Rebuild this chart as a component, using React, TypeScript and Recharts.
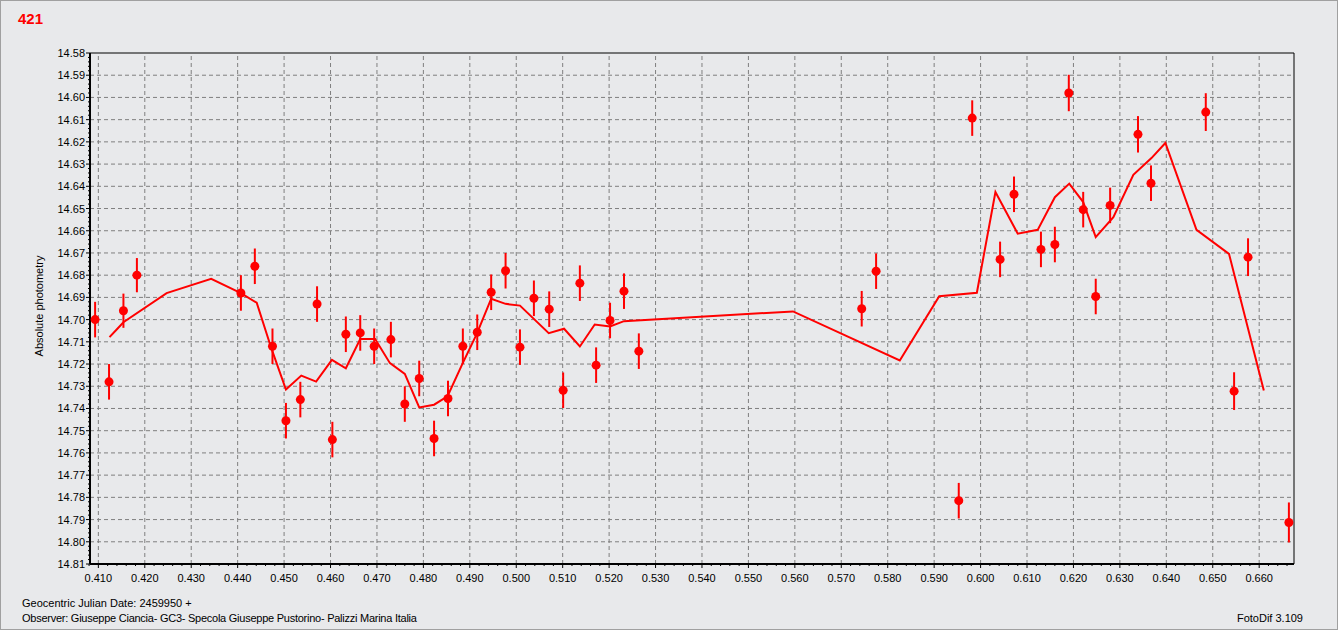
import React from "react";
import {
  ScatterChart,
  Scatter,
  XAxis,
  YAxis,
  ErrorBar,
  ReferenceLine,
} from "recharts";

// measured points: julian date fraction, magnitude, error
const obsX = [
  0.4093, 0.4123, 0.4154, 0.4183, 0.4407, 0.4437, 0.4475, 0.4504, 0.4535, 0.4571,
  0.4604, 0.4633, 0.4664, 0.4694, 0.473, 0.476, 0.4791, 0.4823, 0.4853, 0.4885,
  0.4916, 0.4946, 0.4977, 0.5008, 0.5038, 0.5071, 0.5101, 0.5137, 0.5172, 0.5202,
  0.5232, 0.5264, 0.5744, 0.5775, 0.5953, 0.5982, 0.6042, 0.6072, 0.613, 0.616,
  0.619, 0.6221, 0.6248, 0.6279, 0.6339, 0.6367, 0.6485, 0.6546, 0.6576, 0.6664,
];
const obsMag = [
  14.7, 14.728, 14.696, 14.68, 14.688, 14.676, 14.712, 14.7455, 14.736, 14.693,
  14.754, 14.7066, 14.706, 14.712, 14.709, 14.738, 14.7265, 14.7535, 14.7355, 14.712,
  14.7057, 14.6877, 14.678, 14.7124, 14.6904, 14.6953, 14.7318, 14.6836, 14.7205, 14.7004,
  14.6872, 14.7142, 14.6951, 14.6782, 14.7815, 14.6093, 14.6729, 14.6436, 14.6684, 14.6662,
  14.598, 14.6505, 14.6896, 14.6486, 14.6166, 14.6386, 14.6066, 14.7322, 14.6719, 14.7913,
];
const obsErr = [
  0.008, 0.008, 0.0077, 0.0077, 0.008, 0.008, 0.008, 0.008, 0.008, 0.008,
  0.008, 0.008, 0.008, 0.008, 0.008, 0.008, 0.008, 0.008, 0.008, 0.008,
  0.008, 0.008, 0.008, 0.008, 0.008, 0.008, 0.008, 0.008, 0.008, 0.008,
  0.008, 0.008, 0.008, 0.008, 0.008, 0.008, 0.008, 0.008, 0.008, 0.008,
  0.0082, 0.008, 0.008, 0.008, 0.0082, 0.008, 0.0085, 0.0085, 0.0085, 0.009,
];

// running mean curve
const meanX = [
  0.4124, 0.4141, 0.4154, 0.4247, 0.4343, 0.4407, 0.4441, 0.4473, 0.4504, 0.4537,
  0.4569, 0.4603, 0.4633, 0.4664, 0.4696, 0.4728, 0.476, 0.4791, 0.4823, 0.4852,
  0.4885, 0.4915, 0.4946, 0.4977, 0.5008, 0.507, 0.5103, 0.5137, 0.5169, 0.5202,
  0.5232, 0.5596, 0.5826, 0.5911, 0.5992, 0.6032, 0.608, 0.6123, 0.616, 0.6191,
  0.6221, 0.6248, 0.6286, 0.6329, 0.6368, 0.6398, 0.6465, 0.6535, 0.661,
];
const meanMag = [
  14.7079, 14.7041, 14.7012, 14.6881, 14.6816, 14.6881, 14.6924, 14.7132, 14.7315, 14.7252,
  14.7279, 14.7181, 14.7219, 14.7087, 14.7087, 14.7196, 14.7244, 14.7395, 14.7383, 14.7345,
  14.7195, 14.7064, 14.6906, 14.6929, 14.6937, 14.7061, 14.7041, 14.7121, 14.7022, 14.7031,
  14.7007, 14.6963, 14.7184, 14.6895, 14.6879, 14.6426, 14.6613, 14.6596, 14.6449, 14.6388,
  14.6471, 14.6629, 14.6539, 14.6348, 14.6273, 14.6205, 14.6596, 14.6704, 14.7319,
];

const xMajorTicks = [
  0.41, 0.42, 0.43, 0.44, 0.45, 0.46, 0.47, 0.48, 0.49, 0.5, 0.51, 0.52, 0.53,
  0.54, 0.55, 0.56, 0.57, 0.58, 0.59, 0.6, 0.61, 0.62, 0.63, 0.64, 0.65, 0.66,
];
const yMajorTicks = [
  14.58, 14.59, 14.6, 14.61, 14.62, 14.63, 14.64, 14.65, 14.66, 14.67, 14.68, 14.69,
  14.7, 14.71, 14.72, 14.73, 14.74, 14.75, 14.76, 14.77, 14.78, 14.79, 14.8, 14.81,
];

const X_MIN = 0.4082;
const X_MAX = 0.6675;
const FONT = "'Liberation Sans', Arial, sans-serif";
const RED = "#ff0000";

const obsData = obsX.map((x, i) => ({ x, y: obsMag[i], err: obsErr[i] }));
const meanData = meanX.map((x, i) => ({ x, y: meanMag[i] }));

// minor ticks every 0.002 between the labelled ones
const xAllTicks: number[] = [];
for (let k = 204; k <= 333; k++) xAllTicks.push(+(k * 0.002).toFixed(3));
const yAllTicks: number[] = [];
for (let k = 7290; k <= 7405; k++) yAllTicks.push(+(k * 0.002).toFixed(3));

const isMajor = (v: number) => Math.abs(v * 100 - Math.round(v * 100)) < 1e-6;

const XTick = (props: any) => {
  const { x, y, payload } = props;
  const major = isMajor(payload.value);
  return (
    <g>
      <line x1={x} x2={x} y1={y} y2={y + (major ? 4 : 2)} stroke="#000" />
      {major && (
        <text x={x} y={y + 18} textAnchor="middle" fontSize={11} fontFamily={FONT} fill="#000">
          {payload.value.toFixed(3)}
        </text>
      )}
    </g>
  );
};

const YTick = (props: any) => {
  const { x, y, payload } = props;
  const major = isMajor(payload.value);
  return (
    <g>
      <line x1={x - (major ? 4 : 2)} x2={x} y1={y} y2={y} stroke="#000" />
      {major && (
        <text x={x - 5} y={y + 4} textAnchor="end" fontSize={11} fontFamily={FONT} fill="#000">
          {payload.value.toFixed(2)}
        </text>
      )}
    </g>
  );
};

const Dot = (props: any) => <circle cx={props.cx} cy={props.cy} r={4.5} fill={RED} />;
const NoDot = () => <g />;

export default function App() {
  return (
    <div
      style={{
        position: "absolute",
        left: 0,
        top: 0,
        width: 1336,
        height: 628,
        background: "#e8e9eb",
        border: "1px solid #a0a0a0",
        fontFamily: FONT,
        overflow: "hidden",
      }}
    >
      <div
        style={{
          position: "absolute",
          left: 17,
          top: 9,
          color: RED,
          fontWeight: "bold",
          fontSize: 15,
        }}
      >
        421
      </div>
      <div
        style={{
          position: "absolute",
          left: 38,
          top: 305,
          transform: "translate(-50%, -50%) rotate(-90deg)",
          fontSize: 11,
          whiteSpace: "nowrap",
          color: "#000",
        }}
      >
        Absolute photometry
      </div>
      <div style={{ position: "absolute", left: 21, top: 596, fontSize: 11, color: "#000" }}>
        Geocentric Julian Date: 2459950 +
      </div>
      <div
        style={{
          position: "absolute",
          left: 21,
          top: 611,
          fontSize: 11,
          letterSpacing: -0.25,
          whiteSpace: "nowrap",
          color: "#000",
        }}
      >
        Observer: Giuseppe Ciancia- GC3- Specola Giuseppe Pustorino- Palizzi Marina Italia
      </div>
      <div style={{ position: "absolute", right: 34, top: 611, fontSize: 11, color: "#000" }}>
        FotoDif 3.109
      </div>
      <div style={{ position: "absolute", left: -1, top: -1 }}>
        <ScatterChart
          width={1338}
          height={630}
          margin={{ top: 53, right: 44, bottom: 36, left: 0 }}
        >
          <XAxis
            type="number"
            dataKey="x"
            domain={[X_MIN, X_MAX]}
            allowDataOverflow
            ticks={xAllTicks}
            interval={0}
            tick={<XTick />}
            tickLine={false}
            tickSize={0}
            tickMargin={0}
            height={30}
            axisLine={{ stroke: "#000", strokeWidth: 2 }}
          />
          <YAxis
            type="number"
            dataKey="y"
            reversed
            domain={[14.58, 14.81]}
            allowDataOverflow
            ticks={yAllTicks}
            interval={0}
            tick={<YTick />}
            tickLine={false}
            tickSize={0}
            tickMargin={0}
            width={90}
            axisLine={{ stroke: "#000", strokeWidth: 2 }}
          />
          {xMajorTicks.map((v) => (
            <ReferenceLine key={"vx" + v} x={v} stroke="#7f7f7f" strokeDasharray="4 3" />
          ))}
          {yMajorTicks
            .filter((v) => v > 14.58 && v < 14.81)
            .map((v) => (
              <ReferenceLine key={"hy" + v} y={v} stroke="#7f7f7f" strokeDasharray="4 3" />
            ))}
          <ReferenceLine y={14.58} stroke="#000" />
          <ReferenceLine x={X_MAX} stroke="#000" />
          <Scatter
            data={meanData}
            line={{ stroke: RED, strokeWidth: 2 }}
            lineType="joint"
            shape={NoDot}
            isAnimationActive={false}
          />
          <Scatter data={obsData} shape={Dot} isAnimationActive={false}>
            <ErrorBar dataKey="err" direction="y" stroke={RED} strokeWidth={2} width={0} />
          </Scatter>
        </ScatterChart>
      </div>
    </div>
  );
}
